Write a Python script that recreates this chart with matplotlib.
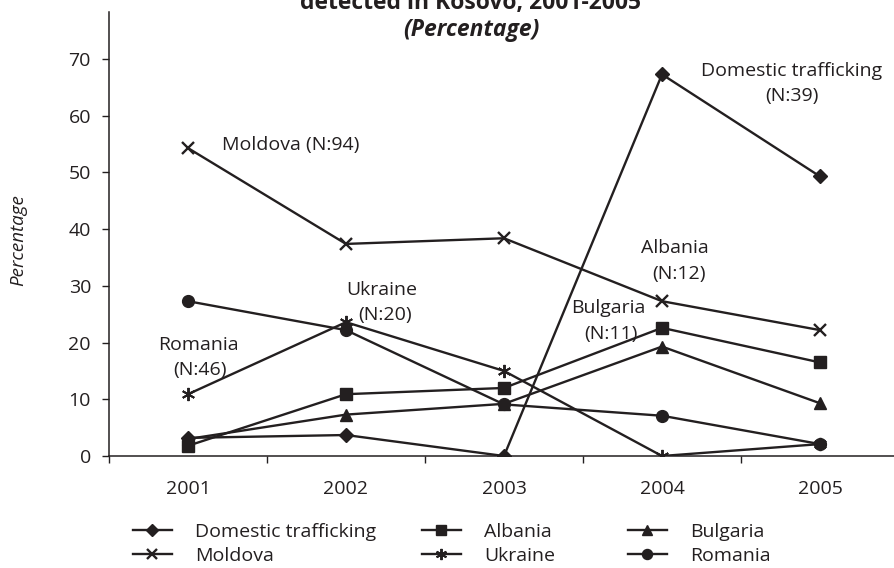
import numpy as np
import matplotlib
matplotlib.use("Agg")
import matplotlib.pyplot as plt

plt.rcParams['font.family'] = ['Open Sans', 'DejaVu Sans']

INK = '#231f20'

years = ['2001', '2002', '2003', '2004', '2005']
domestic = [3.2, 3.7, 0.0, 67.3, 49.3]
albania = [1.8, 10.9, 12.0, 22.6, 16.5]
bulgaria = [3.0, 7.3, 9.2, 19.3, 9.3]
moldova = [54.3, 37.4, 38.4, 27.3, 22.2]
ukraine = [10.9, 23.6, 15.0, 0.0, 2.1]
romania = [27.3, 22.2, 9.1, 7.1, 2.1]

series = [
    ('Domestic trafficking', domestic, 'D', 7, 1.0),
    ('Albania', albania, 's', 8.5, 1.0),
    ('Bulgaria', bulgaria, '^', 9, 1.0),
    ('Moldova', moldova, 'x', 8.5, 1.7),
    ('Ukraine', ukraine, (6, 2, 0), 9.5, 1.4),
    ('Romania', romania, 'o', 8.5, 1.0),
]

fig = plt.figure(figsize=(8.95, 5.68), dpi=100)
ax = fig.add_axes([109 / 895, 1 - 456 / 568, 790 / 895, 444 / 568])

x = np.arange(len(years))
handles = {}
for name, vals, mk, ms, mew in series:
    ln, = ax.plot(x, vals, color=INK, lw=1.7, marker=mk, ms=ms,
                  mew=mew, mfc=INK, mec=INK, label=name)
    handles[name] = ln

ax.set_xlim(-0.5, 4.5)
ax.set_ylim(0, 78.3)
ax.set_yticks(range(0, 71, 10))
ax.set_xticks(x)
ax.set_xticklabels(years)
ax.set_xticks(np.arange(-0.5, 4.6, 1), minor=True)
ax.tick_params(axis='x', which='major', length=0, pad=17, labelsize=14, colors=INK)
ax.tick_params(axis='x', which='minor', length=5, width=1, color=INK)
ax.tick_params(axis='y', length=5, width=1, pad=8, labelsize=14, colors=INK)
for s in ['top', 'right']:
    ax.spines[s].set_visible(False)
for s in ['left', 'bottom']:
    ax.spines[s].set_color(INK)
    ax.spines[s].set_linewidth(1.1)

fig.text(18 / 895, 1 - 240 / 568, 'Percentage', rotation=90, style='italic',
         ha='center', va='center', fontsize=13.5, color=INK)

# title (first line cut at the top of the picture)
fig.text(471 / 895, 1 - 3 / 568, 'detected in Kosovo, 2001-2005', ha='center',
         va='center', fontsize=16.5, fontweight='bold', color=INK)
fig.text(471 / 895, 1 - 30 / 568, '(Percentage)', ha='center', va='center',
         fontsize=16.5, fontweight='bold', style='italic', color=INK)

# series annotations
def note(px, py, txt):
    fig.text(px / 895, 1 - py / 568, txt, ha='center', va='center',
             fontsize=14, color=INK)

fig.text(222 / 895, 1 - 145 / 568, 'Moldova (N:94)', ha='left', va='center',
         fontsize=14, color=INK)
note(792, 71, 'Domestic trafficking')
note(792, 96, '(N:39)')
note(675, 248, 'Albania')
note(679, 274, '(N:12)')
note(608, 308, 'Bulgaria')
note(611, 334, '(N:11)')
note(382, 290, 'Ukraine')
note(385, 315, '(N:20)')
note(198, 345, 'Romania')
note(200, 370, '(N:46)')

# legend in three separate columns
cols = [(133, ['Domestic trafficking', 'Moldova']),
        (422, ['Albania', 'Ukraine']),
        (628, ['Bulgaria', 'Romania'])]
for px, names in cols:
    leg = fig.legend([handles[n] for n in names], names,
                     loc='upper left', bbox_to_anchor=(px / 895, 1 - 523 / 568),
                     frameon=False, fontsize=14, handlelength=2.0,
                     handletextpad=1.2, labelspacing=0.32, borderpad=0,
                     borderaxespad=0, markerscale=0.85)
    for t in leg.get_texts():
        t.set_color(INK)

fig.savefig('out.png', dpi=100)
